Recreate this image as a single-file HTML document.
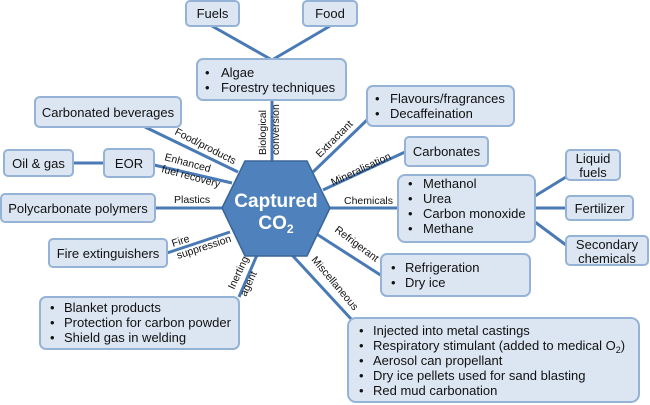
<!DOCTYPE html>
<html><head><meta charset="utf-8"><style>
html,body{margin:0;padding:0;background:#fff;}
svg{display:block;}
text{font-family:"Liberation Sans",Arial,sans-serif;fill:#111;}
.b{fill:#dce6f2;stroke:#95b3d7;stroke-width:2;}
.l{stroke:#4a7ab5;stroke-width:3;fill:none;}
.t{font-size:13px;}
.s{font-size:10.5px;}
</style></head><body>
<svg width="650" height="405" viewBox="0 0 650 405" xmlns="http://www.w3.org/2000/svg">
<g class="l">
<line x1="212" y1="26" x2="272" y2="60"/>
<line x1="330" y1="26" x2="272" y2="60"/>
<line x1="272" y1="100" x2="272" y2="162"/>
<line x1="145" y1="127" x2="238" y2="172"/>
<line x1="73" y1="163" x2="104" y2="163"/>
<line x1="154" y1="165" x2="232" y2="183"/>
<line x1="155" y1="208" x2="222" y2="208"/>
<line x1="167" y1="253" x2="230" y2="232"/>
<line x1="239" y1="297" x2="257" y2="255"/>
<line x1="292" y1="255" x2="352" y2="320"/>
<line x1="315" y1="233" x2="382" y2="276"/>
<line x1="330" y1="208" x2="398" y2="208"/>
<line x1="323" y1="190" x2="405" y2="152"/>
<line x1="313" y1="172" x2="367" y2="120"/>
<line x1="535" y1="196" x2="566" y2="177"/>
<line x1="535" y1="208" x2="566" y2="208"/>
<line x1="535" y1="222" x2="566" y2="245"/>
</g>
<rect class="b" x="186" y="1" width="53" height="25" rx="4"/>
<text class="t" x="212.5" y="18" text-anchor="middle">Fuels</text>
<rect class="b" x="303" y="1" width="54" height="25" rx="4"/>
<text class="t" x="330" y="18" text-anchor="middle">Food</text>
<rect class="b" x="197" y="59" width="149" height="41" rx="6"/>
<text class="t" x="205" y="77">•</text><text class="t" x="221" y="77">Algae</text>
<text class="t" x="205" y="92">•</text><text class="t" x="221" y="92">Forestry techniques</text>
<rect class="b" x="35" y="97" width="146" height="30" rx="5"/>
<text class="t" x="108" y="117" text-anchor="middle">Carbonated beverages</text>
<rect class="b" x="4" y="150" width="69" height="26" rx="4"/>
<text class="t" x="38.5" y="168" text-anchor="middle">Oil &amp; gas</text>
<rect class="b" x="104" y="149" width="50" height="28" rx="4"/>
<text class="t" x="129" y="168" text-anchor="middle">EOR</text>
<rect class="b" x="1" y="194" width="154" height="28" rx="4"/>
<text class="t" x="78" y="213" text-anchor="middle">Polycarbonate polymers</text>
<rect class="b" x="49" y="239" width="118" height="28" rx="4"/>
<text class="t" x="108" y="258" text-anchor="middle">Fire extinguishers</text>
<rect class="b" x="40" y="297" width="199" height="52" rx="6"/>
<text class="t" x="50" y="312">•</text><text class="t" x="64" y="312">Blanket products</text>
<text class="t" x="50" y="327">•</text><text class="t" x="64" y="327">Protection for carbon powder</text>
<text class="t" x="50" y="342">•</text><text class="t" x="64" y="342">Shield gas in welding</text>
<rect class="b" x="367" y="86" width="147" height="40" rx="6"/>
<text class="t" x="375" y="103">•</text><text class="t" x="390" y="103">Flavours/fragrances</text>
<text class="t" x="375" y="118">•</text><text class="t" x="390" y="118">Decaffeination</text>
<rect class="b" x="405" y="137" width="83" height="29" rx="4"/>
<text class="t" x="446.5" y="156" text-anchor="middle">Carbonates</text>
<rect class="b" x="398" y="175" width="137" height="67" rx="7"/>
<text class="t" x="408" y="188">•</text><text class="t" x="423" y="188">Methanol</text>
<text class="t" x="408" y="203">•</text><text class="t" x="423" y="203">Urea</text>
<text class="t" x="408" y="218">•</text><text class="t" x="423" y="218">Carbon monoxide</text>
<text class="t" x="408" y="233">•</text><text class="t" x="423" y="233">Methane</text>
<rect class="b" x="566" y="150" width="54" height="30" rx="4"/>
<text class="t" x="593" y="163" text-anchor="middle">Liquid</text>
<text class="t" x="593" y="177" text-anchor="middle">fuels</text>
<rect class="b" x="566" y="196" width="67" height="24" rx="4"/>
<text class="t" x="599.5" y="213" text-anchor="middle">Fertilizer</text>
<rect class="b" x="566" y="236" width="82" height="29" rx="4"/>
<text class="t" x="607" y="249" text-anchor="middle">Secondary</text>
<text class="t" x="607" y="263" text-anchor="middle">chemicals</text>
<rect class="b" x="381" y="254" width="149" height="42" rx="6"/>
<text class="t" x="391" y="272">•</text><text class="t" x="405" y="272">Refrigeration</text>
<text class="t" x="391" y="287">•</text><text class="t" x="405" y="287">Dry ice</text>
<rect class="b" x="348" y="318" width="291" height="84" rx="8"/>
<text class="t" x="359" y="335">•</text><text class="t" x="373" y="335">Injected into metal castings</text>
<text class="t" x="359" y="350">•</text><text class="t" x="373" y="350">Respiratory stimulant (added to medical O<tspan font-size="9" dy="3">2</tspan><tspan dy="-3">)</tspan></text>
<text class="t" x="359" y="365">•</text><text class="t" x="373" y="365">Aerosol can propellant</text>
<text class="t" x="359" y="380">•</text><text class="t" x="373" y="380">Dry ice pellets used for sand blasting</text>
<text class="t" x="359" y="395">•</text><text class="t" x="373" y="395">Red mud carbonation</text>
<polygon points="222,208 245,161 307,161 330,208 307,256 245,256" fill="#4f81bd" stroke="#3a6598" stroke-width="1.5"/>
<text x="276" y="207" text-anchor="middle" font-size="19" font-weight="bold" style="fill:#fff">Captured</text>
<text x="276" y="229" text-anchor="middle" font-size="19" font-weight="bold" style="fill:#fff">CO<tspan font-size="12" dy="4">2</tspan></text>
<text class="s" transform="translate(266,155) rotate(-90)">Biological</text>
<text class="s" transform="translate(279,155) rotate(-90)">conversion</text>
<text class="s" transform="translate(174,134) rotate(27)">Food/products</text>
<text class="s" transform="translate(164,160) rotate(15)">Enhanced</text>
<text class="s" transform="translate(161,172) rotate(15)">fuel recovery</text>
<text class="s" x="174" y="203">Plastics</text>
<text class="s" transform="translate(173,247) rotate(-18)">Fire</text>
<text class="s" transform="translate(178,259) rotate(-18)">suppression</text>
<text class="s" transform="translate(234,290) rotate(-65)">Inerting</text>
<text class="s" transform="translate(246,297) rotate(-65)">agent</text>
<text class="s" transform="translate(311,260) rotate(50)">Miscellaneous</text>
<text class="s" transform="translate(334,231) rotate(37)">Refrigerant</text>
<text class="s" x="344" y="204">Chemicals</text>
<text class="s" transform="translate(333,186) rotate(-25)">Mineralisation</text>
<text class="s" transform="translate(320,158) rotate(-45)">Extractant</text>
</svg>
</body></html>
